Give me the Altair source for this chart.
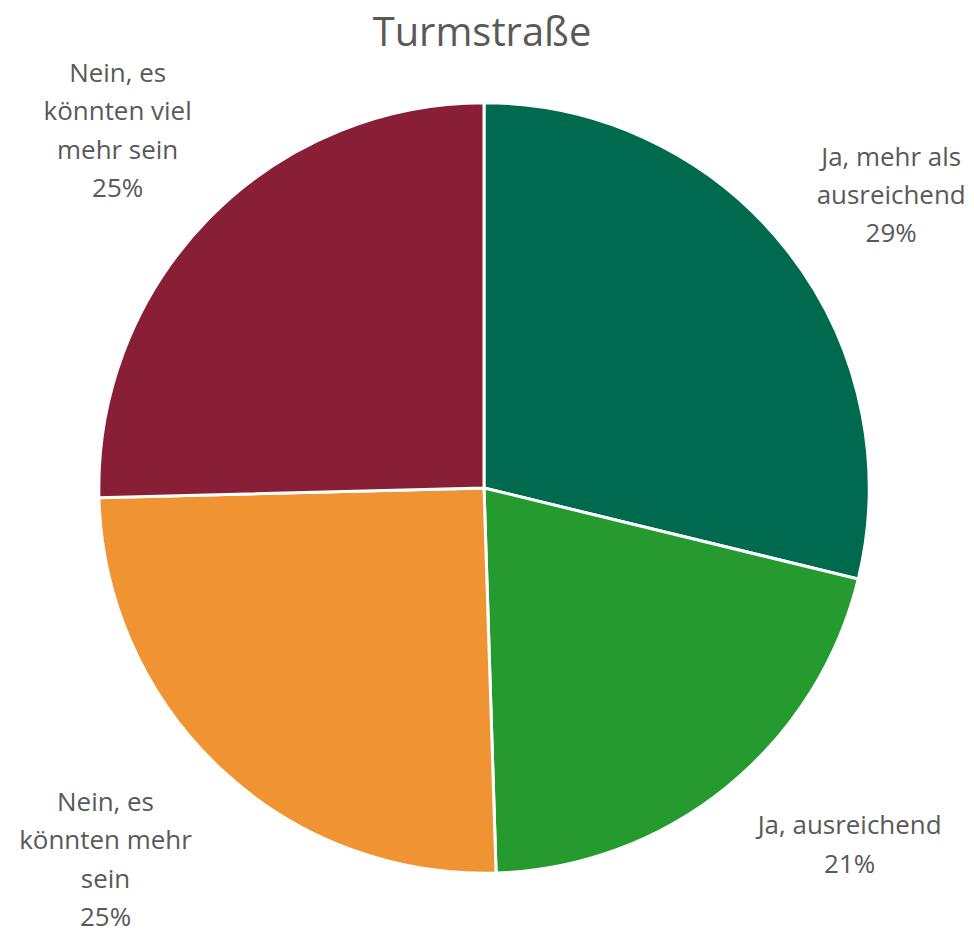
import altair as alt
import pandas as pd

title_text = "Turmstraße"
categories = ["Ja, mehr als ausreichend", "Ja, ausreichend", "Nein, es könnten mehr sein", "Nein, es könnten viel mehr sein"]
label_lines = [
    ["Ja, mehr als", "ausreichend", "29%"],
    ["Ja, ausreichend", "21%"],
    ["Nein, es", "könnten mehr", "sein", "25%"],
    ["Nein, es", "könnten viel", "mehr sein", "25%"],
]
values = [28.8, 20.7, 25.1, 25.4]
colors = ["#006A4E", "#259B2F", "#F09433", "#881F37"]

df = pd.DataFrame({
    "cat": categories,
    "value": values,
    "order": list(range(len(categories))),
    "label": ["\n".join(l) for l in label_lines],
})

W, H = 958, 919
CX, CY = 477, 480
R = 386

# label layout offsets (first-line position relative to theta anchor)
label_offsets = [(7, -16), (45, -57), (-29, -55), (-2, -59)]

base = alt.Chart(df).encode(
    theta=alt.Theta("value:Q", stack=True),
    order=alt.Order("order:Q"),
)

pie = base.mark_arc(outerRadius=R, stroke="white", strokeWidth=3).encode(
    x=alt.value(CX), y=alt.value(CY),
    color=alt.Color("cat:N", scale=alt.Scale(domain=categories, range=colors), legend=None),
)

label_layers = []
for i, (ddx, ddy) in enumerate(label_offsets):
    label_layers.append(
        base.mark_text(
            radius=510, font="Open Sans", fontSize=26, color="#595959",
            align="center", baseline="middle", lineBreak="\n", lineHeight=38.5,
            dx=ddx, dy=ddy,
        ).encode(
            x=alt.value(CX), y=alt.value(CY),
            text=alt.condition(f"datum.order == {i}", "label:N", alt.value("")),
        )
    )

title = alt.Chart(pd.DataFrame({"t": [title_text]})).mark_text(
    font="Open Sans", fontSize=40, color="#595959", align="center", baseline="middle",
).encode(x=alt.value(CX - 2), y=alt.value(25), text="t:N")

chart = alt.layer(pie, *label_layers, title).properties(
    width=W, height=H, padding=0
).configure_view(stroke=None)

chart.save("out.html", embed_options={"renderer": "svg", "actions": False})
